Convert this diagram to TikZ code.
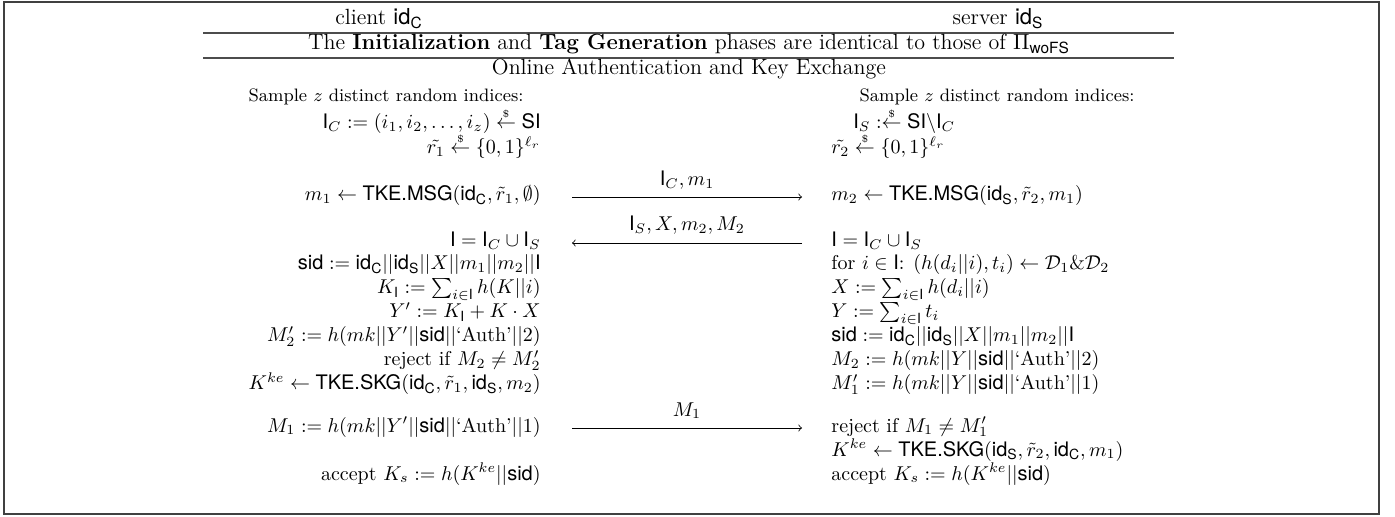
\documentclass[tikz,border=0pt]{standalone}
\usepackage{amsmath, amssymb}
\usepackage{fontspec}
\newfontfamily\hvfont{TeX Gyre Heros}
\usepackage{tikz}
\usetikzlibrary{arrows}

\newcommand{\sv}[1]{\text{\hvfont #1}}
\newcommand{\rnd}{\overset{\scriptscriptstyle\$}{\leftarrow}}

\begin{document}
\begin{tikzpicture}[x=0.5pt, y=-0.5pt, font=\fontsize{10}{12}\selectfont]
\tikzstyle{lhs} = [anchor=base east, inner sep=0pt]
\tikzstyle{rhs} = [anchor=base west, inner sep=0pt]
\tikzstyle{head} = [anchor=base, inner sep=0pt, font=\fontsize{11}{13}\selectfont]
\tikzstyle{note} = [anchor=base, inner sep=0pt, font=\fontsize{9}{11}\selectfont]
\tikzstyle{hline} = [line width=0.6pt, black!70]
\tikzstyle{msg} = [->, >=to, line width=0.4pt]
\tikzstyle{lbl} = [anchor=base, inner sep=0pt]

\useasboundingbox (0,0) rectangle (1395,517);
\draw [line width=0.7pt, black!75] (4,2) rectangle (1379,514);

% Header
\node (client) [head] at (379,25) {client $\sv{id}_{\sv{C}}$};
\node (server) [head] at (998,25) {server $\sv{id}_{\sv{S}}$};
\draw [hline] (203,33) -- (1174,33);
\node (init) [head] at (689,50) {The \textbf{Initialization} and \textbf{Tag Generation} phases are identical to those of $\Pi_{\sv{woFS}}$};
\draw [hline] (203,58) -- (1174,58);
\node (online) [head] at (689,75) {Online Authentication and Key Exchange};

% Client Side
\node (csample) [note] at (386,102) {Sample $z$ distinct random indices:};
\node (cidx) [lhs] at (541,129) {$\sv{I}_C := (i_1, i_2, \ldots, i_z) \rnd \sv{SI}$};
\node (crnd) [lhs] at (541,154) {$\tilde{r_1} \rnd \{0,1\}^{\ell_r}$};
\node (cmsg) [lhs] at (541,201) {$m_1 \leftarrow \sv{TKE.MSG}(\sv{id}_{\sv{C}}, \tilde{r}_1, \emptyset)$};
\node (cset) [lhs] at (541,247) {$\sv{I} = \sv{I}_C \cup \sv{I}_S$};
\node (csid) [lhs] at (541,270) {$\sv{sid} := \sv{id}_{\sv{C}}||\sv{id}_{\sv{S}}||X||m_1||m_2||\sv{I}$};
\node (ckey) [lhs] at (541,294) {$K_{\sv{I}} := \sum_{i \in \sv{I}} h(K||i)$};
\node (cy) [lhs] at (541,318) {$Y' := K_{\sv{I}} + K \cdot X$};
\node (cmac) [lhs] at (541,342) {$M_2' := h(mk||Y'||\sv{sid}||\text{`Auth'}||2)$};
\node (crej) [lhs] at (541,366) {reject if $M_2 \neq M_2'$};
\node (cskg) [lhs] at (541,390) {$K^{ke} \leftarrow \sv{TKE.SKG}(\sv{id}_{\sv{C}}, \tilde{r}_1, \sv{id}_{\sv{S}}, m_2)$};
\node (cfin) [lhs] at (541,432) {$M_1 := h(mk||Y'||\sv{sid}||\text{`Auth'}||1)$};
\node (cacc) [lhs] at (541,480) {accept $K_s := h(K^{ke}||\sv{sid})$};

% Server Side
\node (ssample) [note] at (997,102) {Sample $z$ distinct random indices:};
\node (sidx) [rhs] at (853,129) {$\sv{I}_S :\rnd \sv{SI}\backslash\sv{I}_C$};
\node (srnd) [rhs] at (831,154) {$\tilde{r_2} \rnd \{0,1\}^{\ell_r}$};
\node (smsg) [rhs] at (831,201) {$m_2 \leftarrow \sv{TKE.MSG}(\sv{id}_{\sv{S}}, \tilde{r}_2, m_1)$};
\node (sset) [rhs] at (831,247) {$\sv{I} = \sv{I}_C \cup \sv{I}_S$};
\node (sfor) [rhs] at (831,270) {for $i \in \sv{I}$: $(h(d_i||i), t_i) \leftarrow \mathcal{D}_1 \& \mathcal{D}_2$};
\node (sx) [rhs] at (831,294) {$X := \sum_{i \in \sv{I}} h(d_i||i)$};
\node (sy) [rhs] at (831,318) {$Y := \sum_{i \in \sv{I}} t_i$};
\node (ssid) [rhs] at (831,342) {$\sv{sid} := \sv{id}_{\sv{C}}||\sv{id}_{\sv{S}}||X||m_1||m_2||\sv{I}$};
\node (smac) [rhs] at (831,366) {$M_2 := h(mk||Y||\sv{sid}||\text{`Auth'}||2)$};
\node (smac2) [rhs] at (831,390) {$M_1' := h(mk||Y||\sv{sid}||\text{`Auth'}||1)$};
\node (srej) [rhs] at (831,432) {reject if $M_1 \neq M_1'$};
\node (sskg) [rhs] at (831,456) {$K^{ke} \leftarrow \sv{TKE.SKG}(\sv{id}_{\sv{S}}, \tilde{r}_2, \sv{id}_{\sv{C}}, m_1)$};
\node (sacc) [rhs] at (831,480) {accept $K_s := h(K^{ke}||\sv{sid})$};

% Messages
\coordinate (a1) at (572,197);
\coordinate (b1) at (802,197);
\coordinate (a2) at (572,243);
\coordinate (b2) at (802,243);
\coordinate (a3) at (572,428);
\coordinate (b3) at (802,428);
\node (lab1) [lbl] at (687,186) {$\sv{I}_C, m_1$};
\node (lab2) [lbl] at (687,231) {$\sv{I}_S, X, m_2, M_2$};
\node (lab3) [lbl] at (687,416) {$M_1$};
\draw [msg] (a1) -- (b1);
\draw [msg] (b2) -- (a2);
\draw [msg] (a3) -- (b3);

\end{tikzpicture}
\end{document}
